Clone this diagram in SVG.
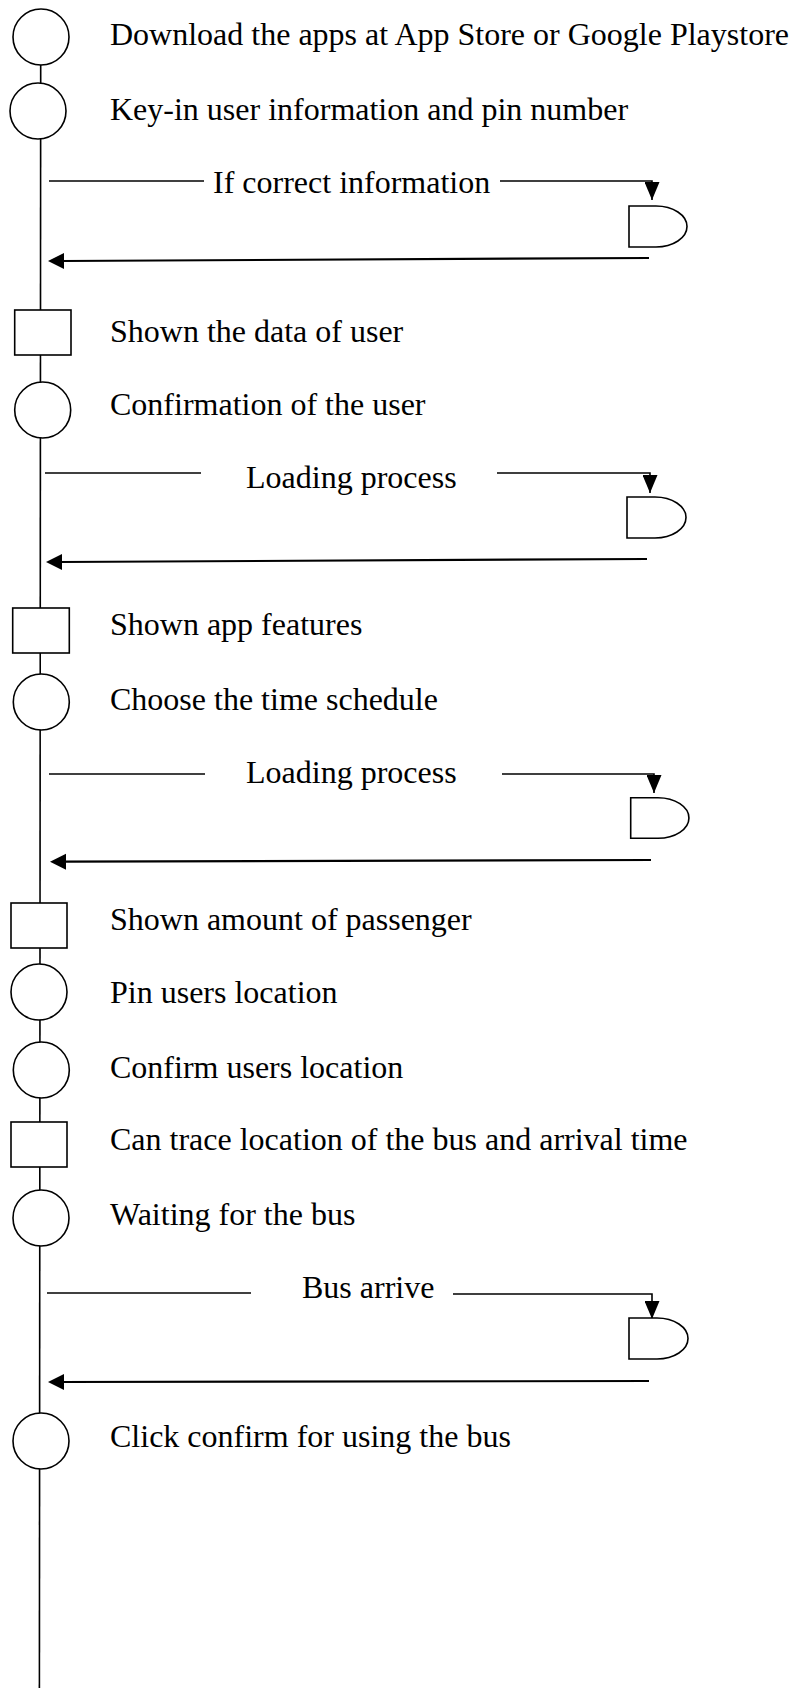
<svg xmlns="http://www.w3.org/2000/svg" width="795" height="1688" viewBox="0 0 795 1688">
<defs>
<style>
.n{fill:#fff;stroke:#000;stroke-width:1.6}
.t{font-family:"Liberation Serif","Times New Roman",serif;font-size:32px;fill:#000}
.l{stroke:#000;stroke-width:1.6;fill:none}
.r{stroke:#000;stroke-width:2.2;fill:none}
</style>
<marker id="al" markerUnits="userSpaceOnUse" markerWidth="16" markerHeight="16" refX="0" refY="8" orient="auto-start-reverse" viewBox="0 0 16 16">
<path d="M0,8 L16,0 L16,16 Z" fill="#000"/>
</marker>
<marker id="ad" markerUnits="userSpaceOnUse" markerWidth="18" markerHeight="15" refX="18" refY="7.5" orient="auto" viewBox="0 0 18 15">
<path d="M0,0 L18,7.5 L0,15 Z" fill="#000"/>
</marker>
</defs>
<rect width="795" height="1688" fill="#fff"/>
<g id="connectors">
<line class="l" x1="40.7" y1="60" x2="39.4" y2="1688"/>
<!-- message 1 -->
<line class="l" x1="49" y1="181" x2="204" y2="181"/>
<polyline class="l" points="500,181 652,181 652,200" marker-end="url(#ad)"/>
<line class="r" x1="649" y1="258" x2="62" y2="261"/>
<path d="M48,261 L64,253 L64,269 Z" fill="#000"/>
<!-- message 2 -->
<line class="l" x1="45" y1="473" x2="201" y2="473"/>
<polyline class="l" points="497,473 650,473 650,493" marker-end="url(#ad)"/>
<line class="r" x1="647" y1="559" x2="60" y2="562"/>
<path d="M46,562 L62,554 L62,570 Z" fill="#000"/>
<!-- message 3 -->
<line class="l" x1="49" y1="774" x2="205" y2="774"/>
<polyline class="l" points="502,774 654,774 654,793" marker-end="url(#ad)"/>
<line class="r" x1="651" y1="860" x2="64" y2="861.7"/>
<path d="M50,861.7 L66,853.7 L66,869.7 Z" fill="#000"/>
<!-- message 4 -->
<line class="l" x1="47" y1="1293" x2="251" y2="1293"/>
<polyline class="l" points="453,1294 652,1294 652,1319" marker-end="url(#ad)"/>
<line class="r" x1="649" y1="1381" x2="62" y2="1382"/>
<path d="M48,1382 L64,1374 L64,1390 Z" fill="#000"/>
</g>
<g id="n1"><circle class="n" cx="41" cy="37" r="28"/><text class="t" x="110" y="45">Download the apps at App Store or Google Playstore</text></g>
<g id="n2"><circle class="n" cx="38" cy="111" r="28"/><text class="t" x="110" y="120">Key-in user information and pin number</text></g>
<g id="m1"><text class="t" x="213" y="193">If correct information</text></g>
<g id="d1"><path class="n" d="M629,206 H656 A31,20.5 0 0 1 656,247 H629 Z"/></g>
<g id="n3"><rect class="n" x="14.7" y="310" width="56.3" height="45"/><text class="t" x="110" y="342">Shown the data of user</text></g>
<g id="n4"><circle class="n" cx="42.7" cy="410" r="28"/><text class="t" x="110" y="415">Confirmation of the user</text></g>
<g id="m2"><text class="t" x="246" y="488">Loading process</text></g>
<g id="d2"><path class="n" d="M627,497 H655 A31,20.5 0 0 1 655,538 H627 Z"/></g>
<g id="n5"><rect class="n" x="12.7" y="608" width="56.6" height="45"/><text class="t" x="110" y="635">Shown app features</text></g>
<g id="n6"><circle class="n" cx="41.3" cy="702" r="28"/><text class="t" x="110" y="710">Choose the time schedule</text></g>
<g id="m3"><text class="t" x="246" y="783">Loading process</text></g>
<g id="d3"><path class="n" d="M630.7,797.7 H658 A31,20.3 0 0 1 658,838.3 H630.7 Z"/></g>
<g id="n7"><rect class="n" x="11" y="903" width="56" height="45"/><text class="t" x="110" y="930">Shown amount of passenger</text></g>
<g id="n8"><circle class="n" cx="39" cy="992" r="28"/><text class="t" x="110" y="1003">Pin users location</text></g>
<g id="n9"><circle class="n" cx="41.3" cy="1070" r="28"/><text class="t" x="110" y="1078">Confirm users location</text></g>
<g id="n10"><rect class="n" x="11" y="1122" width="56" height="45"/><text class="t" x="110" y="1150">Can trace location of the bus and arrival time</text></g>
<g id="n11"><circle class="n" cx="41" cy="1218" r="28"/><text class="t" x="110" y="1225">Waiting for the bus</text></g>
<g id="m4"><text class="t" x="302" y="1298">Bus arrive</text></g>
<g id="d4"><path class="n" d="M629,1318 H657 A31,20.5 0 0 1 657,1359 H629 Z"/></g>
<g id="n12"><circle class="n" cx="41" cy="1441" r="28"/><text class="t" x="110" y="1447">Click confirm for using the bus</text></g>
</svg>
